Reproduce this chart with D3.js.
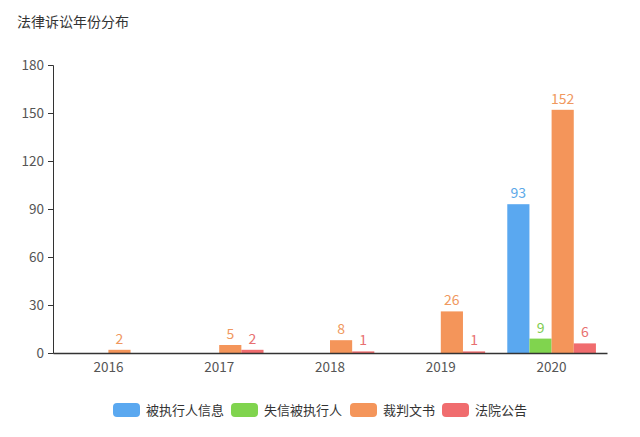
<!DOCTYPE html>
<html><head><meta charset="utf-8">
<script src="https://cdn.jsdelivr.net/npm/d3@7"></script>
<style>body{margin:0;background:#fff;}svg{display:block;}text{font-family:"Noto Sans CJK SC","Noto Sans",sans-serif;}</style>
</head><body>
<svg id="c" width="640" height="437"></svg>
<script>
const title = "法律诉讼年份分布";
const categories = ["2016","2017","2018","2019","2020"];
const seriesNames = ["被执行人信息","失信被执行人","裁判文书","法院公告"];
const seriesColors = ["#5aa8f0","#80d44e","#f4955a","#f06c6e"];
const labelColors = ["#5aa8e8","#80cc50","#f0985e","#e87070"];
const blueVals = [null,null,null,null,93];
const greenVals = [null,null,null,null,9];
const orangeVals = [2,5,8,26,152];
const redVals = [null,2,1,1,6];
const yTicks = [0,30,60,90,120,150,180];

const seriesValues = [blueVals, greenVals, orangeVals, redVals];
const svg = d3.select("#c");
const m = {l:53, r:33, t:65, b:84};
const W = 640, H = 437;

svg.append("text").attr("x",17).attr("y",27).attr("font-size",14).attr("fill","#333").text(title);

const x = d3.scaleBand().domain(categories).range([m.l, W-m.r]).paddingInner(0.2).paddingOuter(0.1);
const x0 = d3.scaleBand().domain(categories).range([m.l, W-m.r]);
const xs = d3.scaleBand().domain(d3.range(seriesNames.length)).range([0, x.bandwidth()]);
const y = d3.scaleLinear().domain([0,180]).range([H-m.b, m.t]);

// y axis
const ya = svg.append("g").attr("transform",`translate(${m.l},0)`)
  .call(d3.axisLeft(y).tickValues(yTicks).tickSize(5).tickPadding(4));
ya.selectAll("path,line").attr("stroke","#333");
ya.selectAll("text").attr("font-size",13.5).attr("fill","#555");

// bars
seriesValues.forEach((vals, si) => {
  const g = svg.append("g");
  categories.forEach((c, ci) => {
    const v = vals[ci];
    if (v == null) return;
    const bx = x0(c) + (x0.bandwidth()-x.bandwidth())/2 + xs(si);
    g.append("rect").attr("x", bx).attr("width", xs.bandwidth())
      .attr("y", y(v)).attr("height", y(0)-y(v)).attr("fill", seriesColors[si]);
    g.append("text").attr("x", bx + xs.bandwidth()/2).attr("y", y(v)-6)
      .attr("text-anchor","middle").attr("font-size",14).attr("fill", labelColors[si]).text(v);
  });
});

// x axis
const xa = svg.append("g").attr("transform",`translate(0,${H-m.b})`)
  .call(d3.axisBottom(x0).tickSize(0).tickPadding(9));
xa.select("path").attr("stroke","#333").attr("stroke-width",1.3);
xa.selectAll("text").attr("font-size",13.5).attr("fill","#555");

// legend
const lg = svg.append("g");
const starts = [113, 231, 350, 442];
seriesNames.forEach((n, i) => {
  lg.append("rect").attr("x", starts[i]).attr("y", 403).attr("width", 27).attr("height", 14)
    .attr("rx", 4).attr("fill", seriesColors[i]);
  lg.append("text").attr("x", starts[i]+33).attr("y", 415).attr("font-size",13).attr("fill","#333").text(n);
});
</script>
</body></html>
